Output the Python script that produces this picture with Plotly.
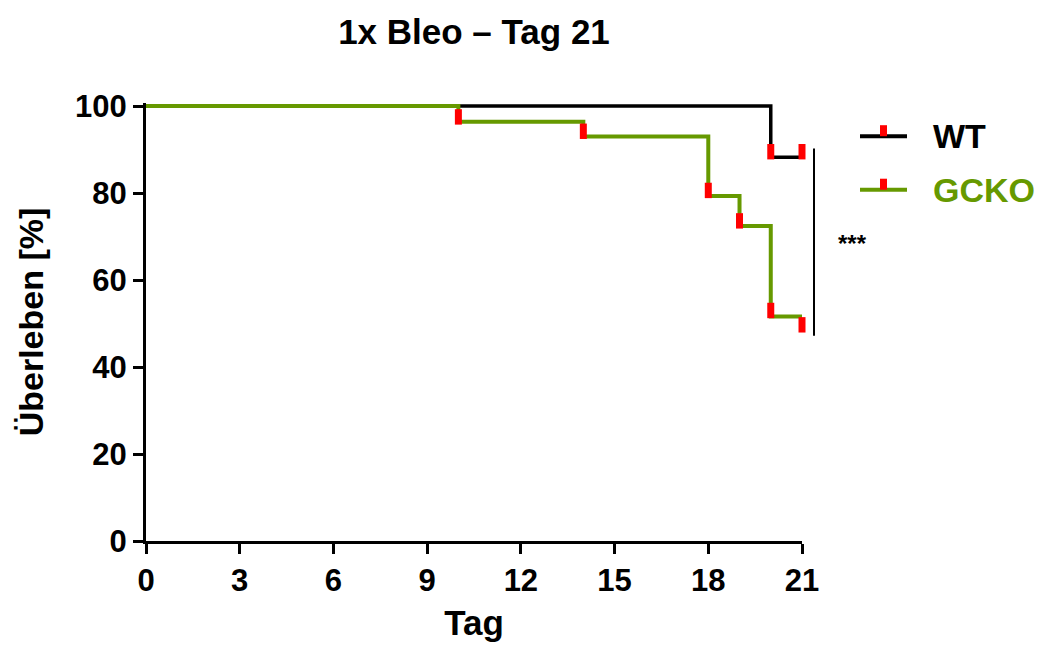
import plotly.graph_objects as go

# ---- data ----
wt_days = [0, 20, 21]
wt_surv = [100, 88.2, 88.2]
gcko_days = [0, 10, 14, 18, 19, 20, 21]
gcko_surv = [100, 96.4, 93.0, 79.3, 72.4, 51.6, 51.6]
wt_cens_days = [20, 21]
wt_cens_y = [89.5, 89.5]
gcko_cens_days = [10, 14, 18, 19, 20, 21]
gcko_cens_y = [97.5, 94.2, 80.6, 73.6, 53.0, 49.7]
x_ticks = [0, 3, 6, 9, 12, 15, 18, 21]
y_ticks = [0, 20, 40, 60, 80, 100]
series_names = ["WT", "GCKO"]

BLACK = "#000000"
GREEN = "#669900"
RED = "#ff0000"

W, H = 1046, 649
L, R, T, B = 146, 244, 103, 104
PW, PH = W - L - R, H - T - B


def px_x(px):
    return (px - L) / PW


def px_y(py):
    return (H - B - py) / PH


fig = go.Figure()
fig.add_trace(go.Scatter(x=wt_days, y=wt_surv, mode="lines", line_shape="hv",
                         line=dict(color=BLACK, width=3.5), showlegend=False,
                         name=series_names[0]))
fig.add_trace(go.Scatter(x=gcko_days, y=gcko_surv, mode="lines", line_shape="hv",
                         line=dict(color=GREEN, width=4), showlegend=False,
                         name=series_names[1]))
for cx, cy in [(wt_cens_days, wt_cens_y), (gcko_cens_days, gcko_cens_y)]:
    fig.add_trace(go.Scatter(x=cx, y=cy, mode="markers", cliponaxis=False,
                             marker=dict(symbol="line-ns", size=11, color=RED,
                                         line=dict(color=RED, width=7)),
                             showlegend=False))

shapes = []
annotations = []
# significance bar
shapes.append(dict(type="line", xref="paper", yref="paper", x0=px_x(814), x1=px_x(814),
                   y0=px_y(338), y1=px_y(149), line=dict(color=BLACK, width=2)))
annotations.append(dict(text="***", xref="paper", yref="paper", x=px_x(852), y=px_y(245),
                        showarrow=False, xanchor="center", yanchor="middle",
                        font=dict(family="Liberation Sans", size=24, color=BLACK, weight="bold")))

# manual legend
legend_rows = [(series_names[0], BLACK, 136.5), (series_names[1], GREEN, 190.5)]
for name, col, py in legend_rows:
    shapes.append(dict(type="line", xref="paper", yref="paper", x0=px_x(860), x1=px_x(907),
                       y0=px_y(py), y1=px_y(py), line=dict(color=col, width=4)))
    shapes.append(dict(type="rect", xref="paper", yref="paper",
                       xsizemode="pixel", ysizemode="pixel",
                       xanchor=px_x(883.5), yanchor=px_y(py),
                       x0=-3.5, x1=3.5, y0=0, y1=11,
                       fillcolor=RED, line=dict(width=0)))
    annotations.append(dict(text=name, xref="paper", yref="paper", x=px_x(931), y=px_y(py),
                            xanchor="left", yanchor="middle", showarrow=False,
                            font=dict(family="Liberation Sans", size=34, color=col, weight="bold")))

fig.update_layout(
    width=W, height=H,
    margin=dict(l=L, r=R, t=T, b=B),
    paper_bgcolor="white", plot_bgcolor="white",
    title=dict(text="1x Bleo – Tag 21", x=0.5, xref="paper", xanchor="center",
               y=1 - 32 / H, yref="container", yanchor="middle",
               font=dict(family="Liberation Sans", size=35, color=BLACK, weight="bold")),
    shapes=shapes, annotations=annotations,
    xaxis=dict(range=[0, 21], tickvals=x_ticks, ticktext=[str(v) for v in x_ticks],
               showgrid=False, zeroline=False, showline=True, linecolor=BLACK, linewidth=3,
               ticks="outside", ticklen=10, tickwidth=3, tickcolor=BLACK,
               tickfont=dict(family="Liberation Sans", size=31, color=BLACK, weight="bold"),
               title=dict(text="Tag", standoff=14,
                          font=dict(family="Liberation Sans", size=35, color=BLACK, weight="bold"))),
    yaxis=dict(range=[0, 100.7], tickvals=y_ticks, ticktext=[str(v) for v in y_ticks],
               showgrid=False, zeroline=False, showline=True, linecolor=BLACK, linewidth=3,
               ticks="outside", ticklen=10, tickwidth=3, tickcolor=BLACK,
               tickfont=dict(family="Liberation Sans", size=31, color=BLACK, weight="bold"),
               title=dict(text="Überleben [%]", standoff=22,
                          font=dict(family="Liberation Sans", size=34, color=BLACK, weight="bold"))),
)

fig.write_html("out.html")
